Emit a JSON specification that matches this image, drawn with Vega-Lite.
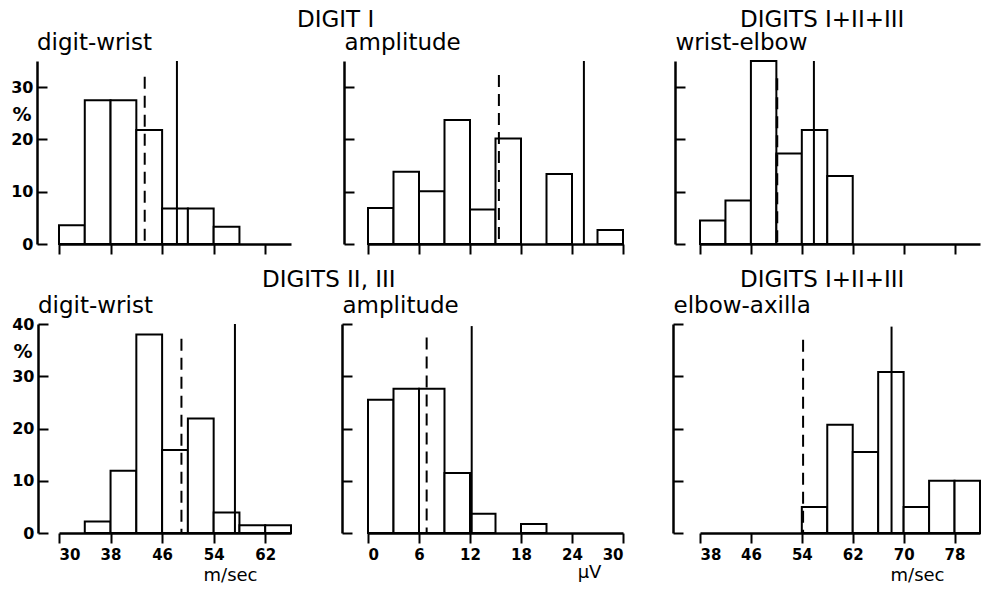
{
  "$schema": "https://vega.github.io/schema/vega-lite/v6.json",
  "background": "white",
  "padding": {"left": 10, "top": 9, "right": 0, "bottom": 0},
  "config": {
    "view": {"stroke": null},
    "font": "DejaVu Sans",
    "axis": {
      "grid": false,
      "domainColor": "black",
      "domainWidth": 2.5,
      "tickColor": "black",
      "tickWidth": 2,
      "labelColor": "black",
      "labelFont": "DejaVu Sans",
      "labelFontWeight": "bold",
      "labelOverlap": false,
      "titleColor": "black",
      "titleFont": "DejaVu Sans",
      "titleFontWeight": "normal"
    },
    "axisX": {"tickSize": 10, "labelPadding": 4, "labelAngle": 0, "labelFontSize": 15, "labelOverlap": false},
    "axisY": {
      "tickSize": -10,
      "labelPadding": 14,
      "labelFontSize": 16,
      "labelOverlap": false,
      "titleAngle": 0,
      "titleAlign": "left",
      "titleBaseline": "alphabetic",
      "titleX": 0,
      "titleY": -12,
      "titleFontSize": 23
    },
    "title": {
      "font": "DejaVu Sans",
      "fontSize": 23,
      "fontWeight": "normal",
      "color": "black",
      "anchor": "start",
      "frame": "group",
      "offset": -1
    }
  },
  "datasets": {
    "bars": [
      {"panel": "p1", "lo": 30, "hi": 34, "pct": 3.6},
      {"panel": "p1", "lo": 34, "hi": 38, "pct": 27.5},
      {"panel": "p1", "lo": 38, "hi": 42, "pct": 27.5},
      {"panel": "p1", "lo": 42, "hi": 46, "pct": 21.8},
      {"panel": "p1", "lo": 46, "hi": 50, "pct": 6.8},
      {"panel": "p1", "lo": 50, "hi": 54, "pct": 6.8},
      {"panel": "p1", "lo": 54, "hi": 58, "pct": 3.3},
      {"panel": "p2", "lo": 0, "hi": 3, "pct": 6.9},
      {"panel": "p2", "lo": 3, "hi": 6, "pct": 13.8},
      {"panel": "p2", "lo": 6, "hi": 9, "pct": 10.1},
      {"panel": "p2", "lo": 9, "hi": 12, "pct": 23.7},
      {"panel": "p2", "lo": 12, "hi": 15, "pct": 6.6},
      {"panel": "p2", "lo": 15, "hi": 18, "pct": 20.2},
      {"panel": "p2", "lo": 21, "hi": 24, "pct": 13.4},
      {"panel": "p2", "lo": 27, "hi": 30, "pct": 2.7},
      {"panel": "p3", "lo": 38, "hi": 42, "pct": 4.5},
      {"panel": "p3", "lo": 42, "hi": 46, "pct": 8.3},
      {"panel": "p3", "lo": 46, "hi": 50, "pct": 35},
      {"panel": "p3", "lo": 50, "hi": 54, "pct": 17.3},
      {"panel": "p3", "lo": 54, "hi": 58, "pct": 21.8},
      {"panel": "p3", "lo": 58, "hi": 62, "pct": 13},
      {"panel": "p4", "lo": 34, "hi": 38, "pct": 2.2},
      {"panel": "p4", "lo": 38, "hi": 42, "pct": 11.9},
      {"panel": "p4", "lo": 42, "hi": 46, "pct": 38},
      {"panel": "p4", "lo": 46, "hi": 50, "pct": 15.9},
      {"panel": "p4", "lo": 50, "hi": 54, "pct": 21.9},
      {"panel": "p4", "lo": 54, "hi": 58, "pct": 3.9},
      {"panel": "p4", "lo": 58, "hi": 62, "pct": 1.5},
      {"panel": "p4", "lo": 62, "hi": 66, "pct": 1.5},
      {"panel": "p5", "lo": 0, "hi": 3, "pct": 25.5},
      {"panel": "p5", "lo": 3, "hi": 6, "pct": 27.6},
      {"panel": "p5", "lo": 6, "hi": 9, "pct": 27.6},
      {"panel": "p5", "lo": 9, "hi": 12, "pct": 11.5},
      {"panel": "p5", "lo": 12, "hi": 15, "pct": 3.7},
      {"panel": "p5", "lo": 18, "hi": 21, "pct": 1.7},
      {"panel": "p6", "lo": 54, "hi": 58, "pct": 5},
      {"panel": "p6", "lo": 58, "hi": 62, "pct": 20.7},
      {"panel": "p6", "lo": 62, "hi": 66, "pct": 15.5},
      {"panel": "p6", "lo": 66, "hi": 70, "pct": 30.8},
      {"panel": "p6", "lo": 70, "hi": 74, "pct": 5},
      {"panel": "p6", "lo": 74, "hi": 78, "pct": 10},
      {"panel": "p6", "lo": 78, "hi": 82, "pct": 10}
    ],
    "lines": [
      {"panel": "p1", "kind": "dashed", "value": 43.3, "top": 32},
      {"panel": "p1", "kind": "solid", "value": 48.3, "top": 35},
      {"panel": "p2", "kind": "dashed", "value": 15.4, "top": 32.3},
      {"panel": "p2", "kind": "solid", "value": 25.4, "top": 35},
      {"panel": "p3", "kind": "dashed", "value": 50.1, "top": 31.7},
      {"panel": "p3", "kind": "solid", "value": 55.9, "top": 35},
      {"panel": "p4", "kind": "dashed", "value": 49.0, "top": 37.2},
      {"panel": "p4", "kind": "solid", "value": 57.3, "top": 40},
      {"panel": "p5", "kind": "dashed", "value": 6.9, "top": 37.4},
      {"panel": "p5", "kind": "solid", "value": 12.2, "top": 39.6},
      {"panel": "p6", "kind": "dashed", "value": 54.2, "top": 37},
      {"panel": "p6", "kind": "solid", "value": 68.1, "top": 39.5}
    ]
  },
  "columns": 3,
  "bounds": "flush",
  "spacing": {"row": 80, "column": 77},
  "concat": [
    {
      "width": 232, "height": 183,
      "title": {"text": "digit-wrist", "dx": -22, "offset": 5},
      "layer": [
        {
          "data": {"name": "bars"},
          "transform": [{"filter": "datum.panel == 'p1'"}],
          "mark": {"type": "rect", "fill": "white", "stroke": "black", "strokeWidth": 2},
          "encoding": {
            "x": {"field": "lo", "type": "quantitative", "scale": {"domain": [30, 66], "nice": false, "zero": false},
                  "axis": {"values": [30, 34, 38, 42, 46, 50, 54, 58, 62, 66], "labels": false, "title": null}},
            "x2": {"field": "hi"},
            "y": {"field": "pct", "type": "quantitative", "scale": {"domain": [0, 35], "nice": false},
                  "axis": {"values": [0, 5, 10, 15, 20, 25, 30, 35], "offset": 22, "labelOverlap": false,
                           "labelExpr": "datum.value % 10 == 0 ? datum.label : ''",
                           "title": "%", "titleX": -6, "titleY": 53, "titleAlign": "right", "titleBaseline": "middle",
                           "titleFontSize": 19, "titleFontWeight": "bold"}},
            "y2": {"datum": 0}
          }
        },
        {
          "data": {"name": "lines"},
          "transform": [{"filter": "datum.panel == 'p1' && datum.kind == 'solid'"}],
          "mark": {"type": "rule", "color": "black", "strokeWidth": 2},
          "encoding": {"x": {"field": "value", "type": "quantitative"}, "y": {"field": "top", "type": "quantitative"}, "y2": {"datum": 0}}
        },
        {
          "data": {"name": "lines"},
          "transform": [{"filter": "datum.panel == 'p1' && datum.kind == 'dashed'"}],
          "mark": {"type": "rule", "color": "black", "strokeWidth": 2, "strokeDash": [12, 7]},
          "encoding": {"x": {"field": "value", "type": "quantitative"}, "y": {"field": "top", "type": "quantitative"}, "y2": {"datum": 0}}
        }
      ]
    },
    {
      "width": 255, "height": 183,
      "title": {"text": "DIGIT I", "dx": -71},
      "layer": [
        {
          "data": {"name": "bars"},
          "transform": [{"filter": "datum.panel == 'p2'"}],
          "mark": {"type": "rect", "fill": "white", "stroke": "black", "strokeWidth": 2},
          "encoding": {
            "x": {"field": "lo", "type": "quantitative", "scale": {"domain": [0, 30], "nice": false, "zero": false},
                  "axis": {"values": [0, 3, 6, 9, 12, 15, 18, 21, 24, 27, 30], "labels": false, "title": null}},
            "x2": {"field": "hi"},
            "y": {"field": "pct", "type": "quantitative", "scale": {"domain": [0, 35], "nice": false},
                  "axis": {"values": [0, 5, 10, 15, 20, 25, 30, 35], "offset": 24, "title": "amplitude", "labels": false}},
            "y2": {"datum": 0}
          }
        },
        {
          "data": {"name": "lines"},
          "transform": [{"filter": "datum.panel == 'p2' && datum.kind == 'solid'"}],
          "mark": {"type": "rule", "color": "black", "strokeWidth": 2},
          "encoding": {"x": {"field": "value", "type": "quantitative"}, "y": {"field": "top", "type": "quantitative"}, "y2": {"datum": 0}}
        },
        {
          "data": {"name": "lines"},
          "transform": [{"filter": "datum.panel == 'p2' && datum.kind == 'dashed'"}],
          "mark": {"type": "rule", "color": "black", "strokeWidth": 2, "strokeDash": [12, 7]},
          "encoding": {"x": {"field": "value", "type": "quantitative"}, "y": {"field": "top", "type": "quantitative"}, "y2": {"datum": 0}}
        }
      ]
    },
    {
      "width": 280, "height": 183,
      "title": {"text": "DIGITS I+II+III", "dx": 40},
      "layer": [
        {
          "data": {"name": "bars"},
          "transform": [{"filter": "datum.panel == 'p3'"}],
          "mark": {"type": "rect", "fill": "white", "stroke": "black", "strokeWidth": 2},
          "encoding": {
            "x": {"field": "lo", "type": "quantitative", "scale": {"domain": [38, 82], "nice": false, "zero": false},
                  "axis": {"values": [38, 42, 46, 50, 54, 58, 62, 66, 70, 74, 78, 82], "labels": false, "title": null}},
            "x2": {"field": "hi"},
            "y": {"field": "pct", "type": "quantitative", "scale": {"domain": [0, 35], "nice": false},
                  "axis": {"values": [0, 5, 10, 15, 20, 25, 30, 35], "offset": 25, "title": "wrist-elbow", "labels": false}},
            "y2": {"datum": 0}
          }
        },
        {
          "data": {"name": "lines"},
          "transform": [{"filter": "datum.panel == 'p3' && datum.kind == 'solid'"}],
          "mark": {"type": "rule", "color": "black", "strokeWidth": 2},
          "encoding": {"x": {"field": "value", "type": "quantitative"}, "y": {"field": "top", "type": "quantitative"}, "y2": {"datum": 0}}
        },
        {
          "data": {"name": "lines"},
          "transform": [{"filter": "datum.panel == 'p3' && datum.kind == 'dashed'"}],
          "mark": {"type": "rule", "color": "black", "strokeWidth": 2.5, "strokeDash": [12, 7]},
          "encoding": {"x": {"field": "value", "type": "quantitative"}, "y": {"field": "top", "type": "quantitative"}, "y2": {"datum": 0}}
        }
      ]
    },
    {
      "width": 232, "height": 209,
      "title": {"text": "digit-wrist", "dx": -21, "offset": -2},
      "layer": [
        {
          "data": {"name": "bars"},
          "transform": [{"filter": "datum.panel == 'p4'"}],
          "mark": {"type": "rect", "fill": "white", "stroke": "black", "strokeWidth": 2},
          "encoding": {
            "x": {"field": "lo", "type": "quantitative", "scale": {"domain": [30, 66], "nice": false, "zero": false},
                  "axis": {"values": [30, 34, 38, 42, 46, 50, 54, 58, 62, 66], "title": "m/sec", "labelOverlap": false,
                           "labelExpr": "(datum.value - 30) % 8 == 0 ? datum.label : ''",
                           "titleX": 171, "titleY": 47, "titleAlign": "center", "titleBaseline": "alphabetic", "titleFontSize": 18}},
            "x2": {"field": "hi"},
            "y": {"field": "pct", "type": "quantitative", "scale": {"domain": [0, 40], "nice": false},
                  "axis": {"values": [0, 5, 10, 15, 20, 25, 30, 35, 40], "offset": 21, "labelOverlap": false,
                           "labelExpr": "datum.value % 10 == 0 ? datum.label : ''",
                           "title": "%", "titleX": -6, "titleY": 27, "titleAlign": "right", "titleBaseline": "middle",
                           "titleFontSize": 19, "titleFontWeight": "bold"}},
            "y2": {"datum": 0}
          }
        },
        {
          "data": {"name": "lines"},
          "transform": [{"filter": "datum.panel == 'p4' && datum.kind == 'solid'"}],
          "mark": {"type": "rule", "color": "black", "strokeWidth": 2},
          "encoding": {"x": {"field": "value", "type": "quantitative"}, "y": {"field": "top", "type": "quantitative"}, "y2": {"datum": 0}}
        },
        {
          "data": {"name": "lines"},
          "transform": [{"filter": "datum.panel == 'p4' && datum.kind == 'dashed'"}],
          "mark": {"type": "rule", "color": "black", "strokeWidth": 2, "strokeDash": [12, 7]},
          "encoding": {"x": {"field": "value", "type": "quantitative"}, "y": {"field": "top", "type": "quantitative"}, "y2": {"datum": 0}}
        }
      ]
    },
    {
      "width": 255, "height": 209,
      "title": {"text": "DIGITS II, III", "dx": -106, "offset": 2},
      "layer": [
        {
          "data": {"name": "bars"},
          "transform": [{"filter": "datum.panel == 'p5'"}],
          "mark": {"type": "rect", "fill": "white", "stroke": "black", "strokeWidth": 2},
          "encoding": {
            "x": {"field": "lo", "type": "quantitative", "scale": {"domain": [0, 30], "nice": false, "zero": false},
                  "axis": {"values": [0, 3, 6, 9, 12, 15, 18, 21, 24, 27, 30], "title": "µV", "labelOverlap": false,
                           "labelExpr": "datum.value % 6 == 0 ? datum.label : ''",
                           "titleX": 221, "titleY": 44, "titleAlign": "center", "titleBaseline": "alphabetic", "titleFontSize": 18}},
            "x2": {"field": "hi"},
            "y": {"field": "pct", "type": "quantitative", "scale": {"domain": [0, 40], "nice": false},
                  "axis": {"values": [0, 5, 10, 15, 20, 25, 30, 35, 40], "offset": 26, "title": "amplitude", "labels": false}},
            "y2": {"datum": 0}
          }
        },
        {
          "data": {"name": "lines"},
          "transform": [{"filter": "datum.panel == 'p5' && datum.kind == 'solid'"}],
          "mark": {"type": "rule", "color": "black", "strokeWidth": 2},
          "encoding": {"x": {"field": "value", "type": "quantitative"}, "y": {"field": "top", "type": "quantitative"}, "y2": {"datum": 0}}
        },
        {
          "data": {"name": "lines"},
          "transform": [{"filter": "datum.panel == 'p5' && datum.kind == 'dashed'"}],
          "mark": {"type": "rule", "color": "black", "strokeWidth": 2, "strokeDash": [12, 7]},
          "encoding": {"x": {"field": "value", "type": "quantitative"}, "y": {"field": "top", "type": "quantitative"}, "y2": {"datum": 0}}
        }
      ]
    },
    {
      "width": 280, "height": 209,
      "title": {"text": "DIGITS I+II+III", "dx": 40, "offset": 2},
      "layer": [
        {
          "data": {"name": "bars"},
          "transform": [{"filter": "datum.panel == 'p6'"}],
          "mark": {"type": "rect", "fill": "white", "stroke": "black", "strokeWidth": 2},
          "encoding": {
            "x": {"field": "lo", "type": "quantitative", "scale": {"domain": [38, 82], "nice": false, "zero": false},
                  "axis": {"values": [38, 42, 46, 50, 54, 58, 62, 66, 70, 74, 78, 82], "title": "m/sec", "labelOverlap": false,
                           "labelExpr": "(datum.value - 38) % 8 == 0 ? datum.label : ''",
                           "titleX": 217, "titleY": 47, "titleAlign": "center", "titleBaseline": "alphabetic", "titleFontSize": 18}},
            "x2": {"field": "hi"},
            "y": {"field": "pct", "type": "quantitative", "scale": {"domain": [0, 40], "nice": false},
                  "axis": {"values": [0, 5, 10, 15, 20, 25, 30, 35, 40], "offset": 27, "title": "elbow-axilla", "labels": false}},
            "y2": {"datum": 0}
          }
        },
        {
          "data": {"name": "lines"},
          "transform": [{"filter": "datum.panel == 'p6' && datum.kind == 'solid'"}],
          "mark": {"type": "rule", "color": "black", "strokeWidth": 2},
          "encoding": {"x": {"field": "value", "type": "quantitative"}, "y": {"field": "top", "type": "quantitative"}, "y2": {"datum": 0}}
        },
        {
          "data": {"name": "lines"},
          "transform": [{"filter": "datum.panel == 'p6' && datum.kind == 'dashed'"}],
          "mark": {"type": "rule", "color": "black", "strokeWidth": 2, "strokeDash": [12, 7]},
          "encoding": {"x": {"field": "value", "type": "quantitative"}, "y": {"field": "top", "type": "quantitative"}, "y2": {"datum": 0}}
        }
      ]
    }
  ]
}
